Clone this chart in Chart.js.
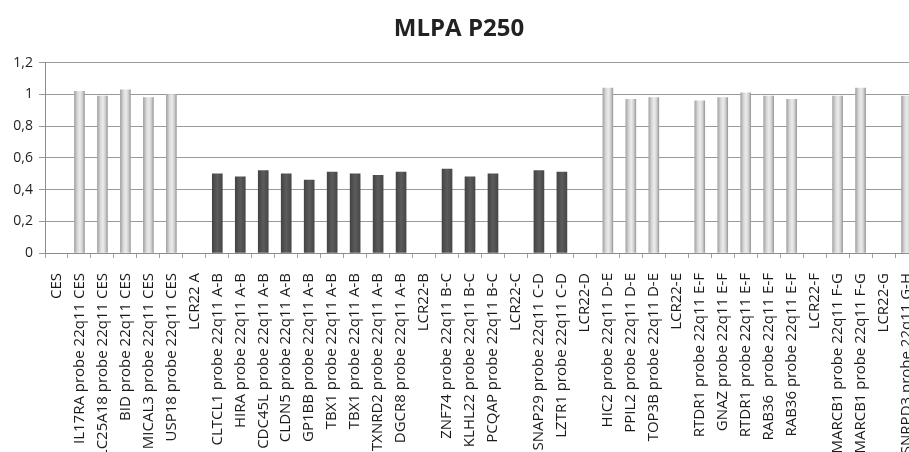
<!DOCTYPE html>
<html>
<head>
<meta charset="utf-8">
<script src="https://cdn.jsdelivr.net/npm/chart.js@4"></script>
<style>
  html, body { margin: 0; padding: 0; background: #fff; overflow: hidden; width: 909px; height: 452px; }
  #wrap { width: 918px; height: 452px; }
</style>
</head>
<body>
<div id="wrap"><canvas id="mlpa"></canvas></div>
<script>
// Data
const probes = [
    'CES',
    'IL17RA probe 22q11 CES',
    'SLC25A18 probe 22q11 CES',
    'BID probe 22q11 CES',
    'MICAL3 probe 22q11 CES',
    'USP18 probe 22q11 CES',
    'LCR22 A',
    'CLTCL1 probe 22q11 A-B',
    'HIRA probe 22q11 A-B',
    'CDC45L probe 22q11 A-B',
    'CLDN5 probe 22q11 A-B',
    'GP1BB probe 22q11 A-B',
    'TBX1 probe 22q11 A-B',
    'TBX1 probe 22q11 A-B',
    'TXNRD2 probe 22q11 A-B',
    'DGCR8 probe 22q11 A-B',
    'LCR22-B',
    'ZNF74 probe 22q11 B-C',
    'KLHL22 probe 22q11 B-C',
    'PCQAP probe 22q11 B-C',
    'LCR22-C',
    'SNAP29 probe 22q11 C-D',
    'LZTR1 probe 22q11 C-D',
    'LCR22-D',
    'HIC2 probe 22q11 D-E',
    'PPIL2 probe 22q11 D-E',
    'TOP3B probe 22q11 D-E',
    'LCR22-E',
    'RTDR1 probe 22q11 E-F',
    'GNAZ probe 22q11 E-F',
    'RTDR1 probe 22q11 E-F',
    'RAB36  probe 22q11 E-F',
    'RAB36 probe 22q11 E-F',
    'LCR22-F',
    'SMARCB1 probe 22q11 F-G',
    'SMARCB1 probe 22q11 F-G',
    'LCR22-G',
    'SNRPD3 probe 22q11 G-H'
];

const ratios = [
    null, 1.02, 0.99, 1.03, 0.98, 1.00,
    null, 0.50, 0.48, 0.52, 0.50, 0.46, 0.51, 0.50, 0.49, 0.51,
    null, 0.53, 0.48, 0.50,
    null, 0.52, 0.51,
    null, 1.04, 0.97, 0.98,
    null, 0.96, 0.98, 1.01, 0.99, 0.97,
    null, 0.99, 1.04,
    null, 0.99
];

const yTicks = [0, 0.2, 0.4, 0.6, 0.8, 1, 1.2];

// Bar fill: cylinder-like horizontal gradient, dark for deleted probes
function barFill(context) {
    const chart = context.chart;
    const v = ratios[context.dataIndex];
    const dark = v !== null && v < 0.75;
    if (!chart.chartArea) return dark ? '#555555' : '#d6d6d6';
    const cx = chart.scales.x.getPixelForValue(context.dataIndex);
    const g = chart.ctx.createLinearGradient(cx - 5, 0, cx + 5, 0);
    if (dark) {
        g.addColorStop(0, '#444444');
        g.addColorStop(0.5, '#5c5c5c');
        g.addColorStop(1, '#474747');
    } else {
        g.addColorStop(0, '#a4a4a4');
        g.addColorStop(0.3, '#d8d8d8');
        g.addColorStop(0.55, '#ececec');
        g.addColorStop(0.8, '#cecece');
        g.addColorStop(1, '#9c9c9c');
    }
    return g;
}

function fmt(v) {
    return Number(v.toFixed(1)).toString().replace('.', ',');
}

new Chart(document.getElementById('mlpa'), {
    type: 'bar',
    data: {
        labels: probes,
        datasets: [{
            label: 'MLPA P250',
            data: ratios,
            backgroundColor: barFill,
            borderWidth: 0,
            barThickness: 10
        }]
    },
    options: {
        responsive: true,
        maintainAspectRatio: false,
        animation: false,
        layout: { padding: { top: 15, right: 0, left: 0, bottom: 0 } },
        plugins: {
            legend: { display: false },
            tooltip: { enabled: false },
            title: {
                display: true,
                text: 'MLPA P250',
                color: '#222222',
                font: { family: 'Open Sans', size: 24, weight: 'bold' },
                padding: { top: 0, bottom: 19 }
            }
        },
        scales: {
            x: {
                offset: true,
                grid: {
                    offset: true,
                    drawOnChartArea: false,
                    drawTicks: true,
                    tickLength: 5,
                    color: '#a0a0a0'
                },
                border: { color: '#8c8c8c' },
                ticks: {
                    autoSkip: false,
                    maxRotation: 90,
                    minRotation: 90,
                    padding: 15,
                    color: '#1a1a1a',
                    font: { family: 'Open Sans', size: 15 }
                },
                afterFit: (scale) => {
                    scale.height = 199;
                    scale.paddingLeft = 0;
                    scale.paddingRight = 0;
                }
            },
            y: {
                min: 0,
                max: 1.2,
                afterBuildTicks: (scale) => {
                    scale.ticks = yTicks.map(v => ({ value: v }));
                },
                grid: {
                    color: '#9a9a9a',
                    drawTicks: true,
                    tickLength: 6
                },
                border: { color: '#8c8c8c' },
                ticks: {
                    padding: 6,
                    color: '#1e1e1e',
                    font: { family: 'Open Sans', size: 14 },
                    callback: (v) => fmt(v)
                },
                afterFit: (scale) => { scale.width = 45; }
            }
        }
    }
});
</script>
</body>
</html>
